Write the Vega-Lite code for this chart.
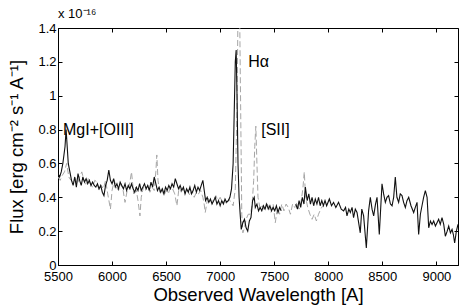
{
  "$schema": "https://vega.github.io/schema/vega-lite/v6.json",
  "width": 400,
  "height": 237,
  "autosize": "none",
  "padding": {"left": 58, "top": 28, "right": 5, "bottom": 42},
  "background": "white",
  "config": {
    "font": "Liberation Sans",
    "view": {"stroke": "black", "strokeWidth": 1},
    "axis": {"grid": false, "domainColor": "black", "tickColor": "black", "labelColor": "black", "titleColor": "black", "labelFont": "Liberation Sans", "titleFont": "Liberation Sans", "labelFontSize": 13, "titleFontSize": 18.5, "titleFontWeight": "normal", "tickSize": -4, "labelPadding": 6, "labelFlush": false}
  },
  "datasets": {
    "black": [
      {"wl":5500,"flux":0.54,"seg":1},{"wl":5515,"flux":0.52,"seg":1},{"wl":5530,"flux":0.55,"seg":1},{"wl":5545,"flux":0.60,"seg":1},{"wl":5555,"flux":0.65,"seg":1},{"wl":5565,"flux":0.70,"seg":1},{"wl":5575,"flux":0.80,"seg":1},{"wl":5585,"flux":0.70,"seg":1},{"wl":5595,"flux":0.60,"seg":1},{"wl":5610,"flux":0.55,"seg":1},{"wl":5625,"flux":0.50,"seg":1},{"wl":5640,"flux":0.47,"seg":1},{"wl":5655,"flux":0.52,"seg":1},{"wl":5670,"flux":0.46,"seg":1},{"wl":5685,"flux":0.54,"seg":1},{"wl":5700,"flux":0.50,"seg":1},{"wl":5715,"flux":0.47,"seg":1},{"wl":5730,"flux":0.52,"seg":1},{"wl":5745,"flux":0.49,"seg":1},{"wl":5760,"flux":0.51,"seg":1},{"wl":5775,"flux":0.48,"seg":1},{"wl":5790,"flux":0.50,"seg":1},{"wl":5805,"flux":0.47,"seg":1},{"wl":5820,"flux":0.49,"seg":1},{"wl":5835,"flux":0.47,"seg":1},{"wl":5850,"flux":0.46,"seg":1},{"wl":5865,"flux":0.48,"seg":1},{"wl":5880,"flux":0.45,"seg":1},{"wl":5895,"flux":0.47,"seg":1},{"wl":5910,"flux":0.43,"seg":1},{"wl":5925,"flux":0.41,"seg":1},{"wl":5940,"flux":0.47,"seg":1},{"wl":5955,"flux":0.50,"seg":1},{"wl":5970,"flux":0.56,"seg":1},{"wl":5985,"flux":0.50,"seg":1},{"wl":6000,"flux":0.48,"seg":1},{"wl":6015,"flux":0.51,"seg":1},{"wl":6030,"flux":0.46,"seg":1},{"wl":6045,"flux":0.48,"seg":1},{"wl":6060,"flux":0.45,"seg":1},{"wl":6075,"flux":0.49,"seg":1},{"wl":6090,"flux":0.47,"seg":1},{"wl":6105,"flux":0.45,"seg":1},{"wl":6120,"flux":0.48,"seg":1},{"wl":6135,"flux":0.44,"seg":1},{"wl":6150,"flux":0.47,"seg":1},{"wl":6165,"flux":0.45,"seg":1},{"wl":6180,"flux":0.48,"seg":1},{"wl":6195,"flux":0.45,"seg":1},{"wl":6210,"flux":0.43,"seg":1},{"wl":6225,"flux":0.46,"seg":1},{"wl":6240,"flux":0.44,"seg":1},{"wl":6255,"flux":0.48,"seg":1},{"wl":6270,"flux":0.44,"seg":1},{"wl":6285,"flux":0.46,"seg":1},{"wl":6300,"flux":0.48,"seg":1},{"wl":6315,"flux":0.45,"seg":1},{"wl":6330,"flux":0.47,"seg":1},{"wl":6345,"flux":0.44,"seg":1},{"wl":6360,"flux":0.49,"seg":1},{"wl":6375,"flux":0.46,"seg":1},{"wl":6390,"flux":0.52,"seg":1},{"wl":6405,"flux":0.48,"seg":1},{"wl":6420,"flux":0.44,"seg":1},{"wl":6435,"flux":0.46,"seg":1},{"wl":6450,"flux":0.43,"seg":1},{"wl":6465,"flux":0.45,"seg":1},{"wl":6480,"flux":0.42,"seg":1},{"wl":6495,"flux":0.46,"seg":1},{"wl":6510,"flux":0.44,"seg":1},{"wl":6525,"flux":0.47,"seg":1},{"wl":6540,"flux":0.45,"seg":1},{"wl":6555,"flux":0.48,"seg":1},{"wl":6570,"flux":0.46,"seg":1},{"wl":6585,"flux":0.51,"seg":1},{"wl":6600,"flux":0.48,"seg":1},{"wl":6615,"flux":0.45,"seg":1},{"wl":6630,"flux":0.47,"seg":1},{"wl":6645,"flux":0.44,"seg":1},{"wl":6660,"flux":0.46,"seg":1},{"wl":6675,"flux":0.42,"seg":1},{"wl":6690,"flux":0.45,"seg":1},{"wl":6705,"flux":0.43,"seg":1},{"wl":6720,"flux":0.46,"seg":1},{"wl":6735,"flux":0.42,"seg":1},{"wl":6750,"flux":0.44,"seg":1},{"wl":6765,"flux":0.47,"seg":1},{"wl":6780,"flux":0.43,"seg":1},{"wl":6795,"flux":0.46,"seg":1},{"wl":6810,"flux":0.44,"seg":1},{"wl":6825,"flux":0.47,"seg":1},{"wl":6840,"flux":0.50,"seg":1},{"wl":6855,"flux":0.43,"seg":1},{"wl":6865,"flux":0.38,"seg":1},{"wl":6880,"flux":0.40,"seg":1},{"wl":6895,"flux":0.37,"seg":1},{"wl":6910,"flux":0.39,"seg":1},{"wl":6925,"flux":0.36,"seg":1},{"wl":6940,"flux":0.38,"seg":1},{"wl":6955,"flux":0.40,"seg":1},{"wl":6970,"flux":0.36,"seg":1},{"wl":6985,"flux":0.38,"seg":1},{"wl":7000,"flux":0.35,"seg":1},{"wl":7015,"flux":0.38,"seg":1},{"wl":7030,"flux":0.36,"seg":1},{"wl":7045,"flux":0.39,"seg":1},{"wl":7060,"flux":0.37,"seg":1},{"wl":7075,"flux":0.38,"seg":1},{"wl":7090,"flux":0.40,"seg":1},{"wl":7105,"flux":0.45,"seg":1},{"wl":7120,"flux":0.60,"seg":1},{"wl":7130,"flux":0.90,"seg":1},{"wl":7140,"flux":1.20,"seg":1},{"wl":7148,"flux":1.27,"seg":1},{"wl":7156,"flux":1.00,"seg":1},{"wl":7165,"flux":0.60,"seg":1},{"wl":7175,"flux":0.40,"seg":1},{"wl":7185,"flux":0.30,"seg":1},{"wl":7195,"flux":0.21,"seg":1},{"wl":7210,"flux":0.25,"seg":1},{"wl":7225,"flux":0.27,"seg":1},{"wl":7240,"flux":0.22,"seg":1},{"wl":7255,"flux":0.20,"seg":1},{"wl":7270,"flux":0.26,"seg":1},{"wl":7285,"flux":0.28,"seg":1},{"wl":7300,"flux":0.38,"seg":1},{"wl":7315,"flux":0.40,"seg":1},{"wl":7325,"flux":0.34,"seg":1},{"wl":7340,"flux":0.36,"seg":1},{"wl":7355,"flux":0.32,"seg":1},{"wl":7370,"flux":0.34,"seg":1},{"wl":7385,"flux":0.32,"seg":1},{"wl":7400,"flux":0.35,"seg":1},{"wl":7415,"flux":0.33,"seg":1},{"wl":7430,"flux":0.36,"seg":1},{"wl":7445,"flux":0.33,"seg":1},{"wl":7460,"flux":0.35,"seg":1},{"wl":7475,"flux":0.32,"seg":1},{"wl":7490,"flux":0.34,"seg":1},{"wl":7505,"flux":0.32,"seg":1},{"wl":7520,"flux":0.35,"seg":1},{"wl":7535,"flux":0.31,"seg":1},{"wl":7550,"flux":0.34,"seg":1},{"wl":7565,"flux":0.32,"seg":1},
      {"wl":7700,"flux":0.36,"seg":2},{"wl":7715,"flux":0.33,"seg":2},{"wl":7730,"flux":0.38,"seg":2},{"wl":7745,"flux":0.34,"seg":2},{"wl":7760,"flux":0.40,"seg":2},{"wl":7775,"flux":0.36,"seg":2},{"wl":7788,"flux":0.46,"seg":2},{"wl":7805,"flux":0.38,"seg":2},{"wl":7820,"flux":0.42,"seg":2},{"wl":7835,"flux":0.36,"seg":2},{"wl":7850,"flux":0.40,"seg":2},{"wl":7865,"flux":0.35,"seg":2},{"wl":7880,"flux":0.39,"seg":2},{"wl":7895,"flux":0.36,"seg":2},{"wl":7910,"flux":0.40,"seg":2},{"wl":7925,"flux":0.35,"seg":2},{"wl":7940,"flux":0.38,"seg":2},{"wl":7955,"flux":0.35,"seg":2},{"wl":7970,"flux":0.38,"seg":2},{"wl":7985,"flux":0.35,"seg":2},{"wl":8010,"flux":0.39,"seg":2},{"wl":8030,"flux":0.35,"seg":2},{"wl":8049,"flux":0.37,"seg":2},{"wl":8070,"flux":0.34,"seg":2},{"wl":8095,"flux":0.37,"seg":2},{"wl":8120,"flux":0.33,"seg":2},{"wl":8142,"flux":0.32,"seg":2},{"wl":8160,"flux":0.34,"seg":2},{"wl":8173,"flux":0.29,"seg":2},{"wl":8190,"flux":0.33,"seg":2},{"wl":8204,"flux":0.31,"seg":2},{"wl":8220,"flux":0.34,"seg":2},{"wl":8234,"flux":0.28,"seg":2},{"wl":8250,"flux":0.33,"seg":2},{"wl":8266,"flux":0.31,"seg":2},{"wl":8296,"flux":0.19,"seg":2},{"wl":8310,"flux":0.33,"seg":2},{"wl":8327,"flux":0.29,"seg":2},{"wl":8352,"flux":0.10,"seg":2},{"wl":8373,"flux":0.32,"seg":2},{"wl":8389,"flux":0.40,"seg":2},{"wl":8405,"flux":0.33,"seg":2},{"wl":8420,"flux":0.29,"seg":2},{"wl":8437,"flux":0.36,"seg":2},{"wl":8451,"flux":0.40,"seg":2},{"wl":8472,"flux":0.18,"seg":2},{"wl":8497,"flux":0.48,"seg":2},{"wl":8512,"flux":0.42,"seg":2},{"wl":8528,"flux":0.37,"seg":2},{"wl":8543,"flux":0.40,"seg":2},{"wl":8558,"flux":0.41,"seg":2},{"wl":8575,"flux":0.36,"seg":2},{"wl":8590,"flux":0.35,"seg":2},{"wl":8605,"flux":0.40,"seg":2},{"wl":8620,"flux":0.52,"seg":2},{"wl":8635,"flux":0.40,"seg":2},{"wl":8651,"flux":0.37,"seg":2},{"wl":8666,"flux":0.42,"seg":2},{"wl":8682,"flux":0.41,"seg":2},{"wl":8697,"flux":0.37,"seg":2},{"wl":8713,"flux":0.34,"seg":2},{"wl":8728,"flux":0.38,"seg":2},{"wl":8744,"flux":0.40,"seg":2},{"wl":8765,"flux":0.35,"seg":2},{"wl":8790,"flux":0.31,"seg":2},{"wl":8805,"flux":0.34,"seg":2},{"wl":8821,"flux":0.37,"seg":2},{"wl":8836,"flux":0.18,"seg":2},{"wl":8852,"flux":0.30,"seg":2},{"wl":8867,"flux":0.35,"seg":2},{"wl":8882,"flux":0.40,"seg":2},{"wl":8898,"flux":0.44,"seg":2},{"wl":8914,"flux":0.40,"seg":2},{"wl":8929,"flux":0.22,"seg":2},{"wl":8945,"flux":0.26,"seg":2},{"wl":8960,"flux":0.24,"seg":2},{"wl":8975,"flux":0.26,"seg":2},{"wl":8991,"flux":0.23,"seg":2},{"wl":9006,"flux":0.25,"seg":2},{"wl":9021,"flux":0.27,"seg":2},{"wl":9036,"flux":0.24,"seg":2},{"wl":9052,"flux":0.28,"seg":2},{"wl":9068,"flux":0.24,"seg":2},{"wl":9083,"flux":0.17,"seg":2},{"wl":9100,"flux":0.20,"seg":2},{"wl":9114,"flux":0.23,"seg":2},{"wl":9130,"flux":0.19,"seg":2},{"wl":9145,"flux":0.21,"seg":2},{"wl":9157,"flux":0.18,"seg":2},{"wl":9169,"flux":0.13,"seg":2},{"wl":9185,"flux":0.20,"seg":2},{"wl":9200,"flux":0.24,"seg":2}
    ],
    "gray": [
      {"wl":5500,"flux":0.52},{"wl":5520,"flux":0.50},{"wl":5540,"flux":0.53},{"wl":5560,"flux":0.55},{"wl":5580,"flux":0.60},{"wl":5600,"flux":0.52},{"wl":5620,"flux":0.50},{"wl":5640,"flux":0.49},{"wl":5660,"flux":0.51},{"wl":5680,"flux":0.48},{"wl":5700,"flux":0.52},{"wl":5720,"flux":0.55},{"wl":5740,"flux":0.50},{"wl":5760,"flux":0.47},{"wl":5780,"flux":0.51},{"wl":5800,"flux":0.48},{"wl":5820,"flux":0.46},{"wl":5840,"flux":0.50},{"wl":5860,"flux":0.49},{"wl":5880,"flux":0.44},{"wl":5900,"flux":0.47},{"wl":5920,"flux":0.45},{"wl":5940,"flux":0.50},{"wl":5960,"flux":0.42},{"wl":5985,"flux":0.33},{"wl":6000,"flux":0.44},{"wl":6020,"flux":0.50},{"wl":6040,"flux":0.46},{"wl":6060,"flux":0.44},{"wl":6080,"flux":0.48},{"wl":6100,"flux":0.45},{"wl":6120,"flux":0.37},{"wl":6140,"flux":0.44},{"wl":6160,"flux":0.47},{"wl":6180,"flux":0.55},{"wl":6200,"flux":0.42},{"wl":6220,"flux":0.46},{"wl":6240,"flux":0.38},{"wl":6258,"flux":0.29},{"wl":6270,"flux":0.40},{"wl":6290,"flux":0.46},{"wl":6310,"flux":0.44},{"wl":6330,"flux":0.47},{"wl":6350,"flux":0.43},{"wl":6370,"flux":0.46},{"wl":6390,"flux":0.44},{"wl":6405,"flux":0.55},{"wl":6414,"flux":0.65},{"wl":6425,"flux":0.50},{"wl":6440,"flux":0.43},{"wl":6460,"flux":0.45},{"wl":6480,"flux":0.41},{"wl":6500,"flux":0.44},{"wl":6520,"flux":0.42},{"wl":6540,"flux":0.46},{"wl":6560,"flux":0.45},{"wl":6580,"flux":0.42},{"wl":6600,"flux":0.35},{"wl":6620,"flux":0.46},{"wl":6640,"flux":0.43},{"wl":6660,"flux":0.45},{"wl":6680,"flux":0.42},{"wl":6700,"flux":0.44},{"wl":6720,"flux":0.41},{"wl":6740,"flux":0.44},{"wl":6760,"flux":0.40},{"wl":6780,"flux":0.43},{"wl":6800,"flux":0.42},{"wl":6820,"flux":0.44},{"wl":6840,"flux":0.40},{"wl":6852,"flux":0.36},{"wl":6862,"flux":0.31},{"wl":6880,"flux":0.38},{"wl":6900,"flux":0.40},{"wl":6920,"flux":0.37},{"wl":6940,"flux":0.39},{"wl":6960,"flux":0.41},{"wl":6980,"flux":0.38},{"wl":7000,"flux":0.40},{"wl":7020,"flux":0.37},{"wl":7040,"flux":0.38},{"wl":7060,"flux":0.36},{"wl":7080,"flux":0.39},{"wl":7100,"flux":0.37},{"wl":7120,"flux":0.35},{"wl":7140,"flux":0.45},{"wl":7155,"flux":0.90},{"wl":7165,"flux":1.50},{"wl":7172,"flux":1.60},{"wl":7180,"flux":1.50},{"wl":7190,"flux":0.90},{"wl":7200,"flux":0.30},{"wl":7210,"flux":0.19},{"wl":7225,"flux":0.22},{"wl":7240,"flux":0.27},{"wl":7260,"flux":0.30},{"wl":7280,"flux":0.30},{"wl":7295,"flux":0.35},{"wl":7310,"flux":0.50},{"wl":7320,"flux":0.70},{"wl":7330,"flux":0.82},{"wl":7340,"flux":0.60},{"wl":7350,"flux":0.40},{"wl":7370,"flux":0.33},{"wl":7390,"flux":0.35},{"wl":7410,"flux":0.32},{"wl":7430,"flux":0.37},{"wl":7450,"flux":0.34},{"wl":7470,"flux":0.31},{"wl":7490,"flux":0.36},{"wl":7510,"flux":0.25},{"wl":7530,"flux":0.34},{"wl":7550,"flux":0.30},{"wl":7570,"flux":0.36},{"wl":7590,"flux":0.32},{"wl":7610,"flux":0.36},{"wl":7630,"flux":0.34},{"wl":7650,"flux":0.30},{"wl":7670,"flux":0.36},{"wl":7690,"flux":0.34},{"wl":7710,"flux":0.37},{"wl":7730,"flux":0.33},{"wl":7750,"flux":0.38},{"wl":7765,"flux":0.45},{"wl":7778,"flux":0.55},{"wl":7790,"flux":0.40},{"wl":7810,"flux":0.34},{"wl":7830,"flux":0.30},{"wl":7850,"flux":0.27},{"wl":7870,"flux":0.30},{"wl":7890,"flux":0.26},{"wl":7910,"flux":0.30},{"wl":7930,"flux":0.33},{"wl":7950,"flux":0.35}
    ],
    "labels": [
      {"wl":5546,"flux":0.80,"label":"MgI+[OIII]"},
      {"wl":7259,"flux":1.20,"label":"Hα"},
      {"wl":7380,"flux":0.80,"label":"[SII]"}
    ]
  },
  "layer": [
    {
      "data": {"name": "gray"},
      "mark": {"type": "line", "color": "#a6a6a6", "strokeWidth": 1, "strokeDash": [6, 3], "clip": true},
      "encoding": {
        "x": {"field": "wl", "type": "quantitative", "scale": {"domain": [5500, 9200], "nice": false, "zero": false},
          "axis": {"orient": "bottom", "title": "Observed Wavelength [A]", "values": [5500,6000,6500,7000,7500,8000,8500,9000], "format": "d", "labelPadding": 9, "titlePadding": 2}},
        "y": {"field": "flux", "type": "quantitative", "scale": {"domain": [0, 1.4], "nice": false},
          "axis": {"orient": "left", "title": "Flux [erg cm⁻² s⁻¹ A⁻¹]", "values": [0,0.2,0.4,0.6,0.8,1,1.2,1.4], "format": "~g", "titlePadding": 11}}
      }
    },
    {
      "data": {"name": "black"},
      "mark": {"type": "line", "color": "#111111", "strokeWidth": 1.1, "clip": true},
      "encoding": {
        "x": {"field": "wl", "type": "quantitative", "axis": {"orient": "top", "title": null, "labels": false, "domain": false, "values": [5500,6000,6500,7000,7500,8000,8500,9000]}},
        "y": {"field": "flux", "type": "quantitative", "axis": {"orient": "right", "title": null, "labels": false, "domain": false, "values": [0,0.2,0.4,0.6,0.8,1,1.2,1.4]}},
        "detail": {"field": "seg"}
      }
    },
    {
      "data": {"name": "labels"},
      "mark": {"type": "text", "align": "left", "baseline": "middle", "fontSize": 16, "font": "Liberation Sans", "color": "black"},
      "encoding": {
        "x": {"field": "wl", "type": "quantitative", "axis": null},
        "y": {"field": "flux", "type": "quantitative", "axis": null},
        "text": {"field": "label"}
      }
    },
    {
      "data": {"values": [{"t": "x 10⁻¹⁶"}]},
      "mark": {"type": "text", "align": "left", "baseline": "alphabetic", "fontSize": 13, "dy": -10, "font": "Liberation Sans", "color": "black"},
      "encoding": {
        "x": {"datum": 5500, "type": "quantitative", "axis": null},
        "y": {"datum": 1.4, "type": "quantitative", "axis": null},
        "text": {"field": "t"}
      }
    }
  ],
  "resolve": {"axis": {"x": "independent", "y": "independent"}}
}
